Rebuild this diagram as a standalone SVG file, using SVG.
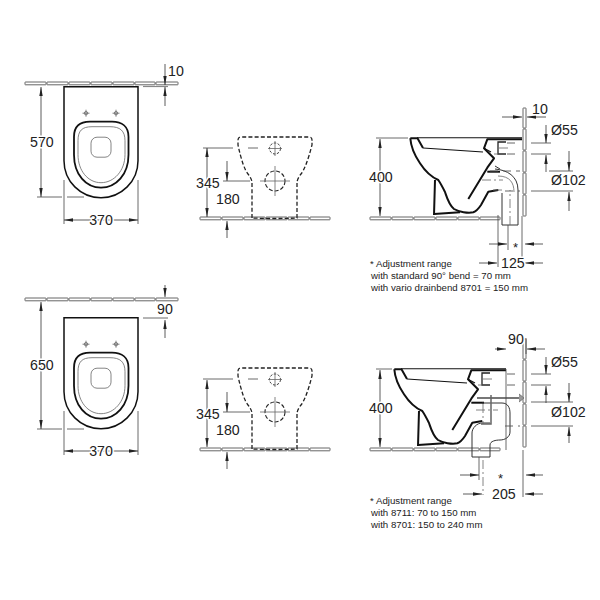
<svg xmlns="http://www.w3.org/2000/svg" width="600" height="600" viewBox="0 0 600 600">
<style>
text{font-family:"Liberation Sans",Arial,sans-serif;fill:#222}
.d{font-size:14.2px;paint-order:stroke;stroke:#fff;stroke-width:3px;stroke-linejoin:round}
.s{font-size:13px}
.n{font-size:9.7px}
.l{fill:none;stroke:#444;stroke-width:.8}
.h{fill:none;stroke:#555;stroke-width:.9;stroke-dasharray:8 5}
.g{fill:none;stroke:#666;stroke-width:.8}
.p{fill:none;stroke:#333;stroke-width:1}
.a{fill:none;stroke:#333;stroke-width:.8;marker-end:url(#ah)}
.b{fill:none;stroke:#333;stroke-width:.8;marker-start:url(#ah);marker-end:url(#ah)}
.t{fill:none;stroke:#111;stroke-width:2;stroke-linejoin:round}
.m{fill:none;stroke:#111;stroke-width:1.1}
.o{fill:none;stroke:#111;stroke-width:1.5}
.dash{fill:none;stroke:#222;stroke-width:1.3;stroke-dasharray:4 2.2}
.c{fill:none;stroke:#666;stroke-width:.8;stroke-dasharray:9 3 2 3}
.wall{fill:#fff;stroke:#555;stroke-width:.9}
</style>
<defs>
<marker id="ah" markerUnits="userSpaceOnUse" markerWidth="10" markerHeight="6" refX="9" refY="2.500" orient="auto-start-reverse"><path d="M0 0.800L9 2.500L0 4.200Z" fill="#222"/></marker>
<g id="hfloor"><rect class="wall" x="0" y="0" width="21" height="2.800" rx=".4"/><rect class="wall" x="22" y="0" width="21" height="2.800" rx=".4"/><rect class="wall" x="44" y="0" width="21" height="2.800" rx=".4"/><rect class="wall" x="66" y="0" width="21" height="2.800" rx=".4"/><rect class="wall" x="88" y="0" width="21" height="2.800" rx=".4"/><rect class="wall" x="110" y="0" width="20" height="2.800" rx=".4"/></g>
<g id="vwall"><rect class="wall" x="523" y="108" width="3" height="20" rx=".4"/><rect class="wall" x="523" y="129" width="3" height="21" rx=".4"/><rect class="wall" x="523" y="151" width="3" height="21" rx=".4"/><rect class="wall" x="523" y="173" width="3" height="21" rx=".4"/><rect class="wall" x="523" y="195" width="3" height="21" rx=".4"/></g>
<g id="top">
<path d="M64 0V74A37 37 0 0 0 138 74V0Z" class="o"/>
<path d="M74 52V50C74 40 80 35 90 35H112C122 35 128.500 40 128.500 50V68C128.500 88 116 101 101 101C86 101 74 88 74 68Z" class="o" style="stroke-width:1.800"/>
<path d="M78 54C78 44 82 40 92 40H110C120 40 125 44 125 54V68C125 84 114 96 101 96C88 96 78 84 78 68Z" class="g"/>
<rect x="91" y="50.500" width="20" height="20" rx="6" class="g"/>
<path d="M82.500 26.500H89.500M86 23V30M112.500 26.500H119.500M116 23V30" class="g"/>
<circle cx="86" cy="26.500" r="1.700" class="g"/><circle cx="116" cy="26.500" r="1.700" class="g"/>
</g>
<g id="front">
<path d="M252 218V183Q252 179 248 174Q243 168 238 145V140Q238 137 241 137H309Q312 137 312 140V145Q306 168 301 174Q297 179 297 183V218Q275 219 252 218Z" class="dash"/>
<circle cx="275" cy="148.500" r="5.500" class="dash" style="stroke-width:.9;stroke-dasharray:2.500 1.500"/>
<circle cx="275" cy="181" r="10" class="dash" style="stroke-width:1.100;stroke-dasharray:4 2"/>
<path d="M268 148.500H282M275 141V156M260 181H290M275 166V196" class="g"/>
</g>
<g id="bowl">
<path d="M410.300 138.300H417.500L423 148" class="t"/>
<path d="M410.300 138.300C411 148 415 156 420 163.300C425 171 431 177 438.300 180C441 184 443 188 445 192C447 198 449 205 454 209C459 212 468 213.500 473.300 212.300C477 211 479 208 481 205L488.300 191.700L498.300 190" class="t"/>
<path d="M435 180L434 215M434 214L460 212.300" class="t"/>
<path d="M468.300 199L487.300 167.700L494 158.300L484 148.300L487.300 139.300H522" class="t"/>
<path d="M487.300 171.700H500" class="t"/>
<path d="M417 137.800H522" class="m"/>
<path d="M423 148L483 152" class="m"/>
<path d="M484 148.300L491 152" class="m"/>
<path d="M506 142H498V154H506" style="fill:none;stroke:#222;stroke-width:1.300"/>
<path d="M494 154H506" class="g"/>
<path d="M499 148H510" class="c"/>
</g>
</defs>

<g id="view-top-plan-1">
<use href="#hfloor" x="25" y="82"/><rect class="wall" x="156" y="82" width="22" height="2.800" rx=".4"/>
<use href="#top" y="86.700"/>
<g id="dims-1">
<path d="M143 86.500H168" style="stroke:#888;stroke-width:1.200;fill:none"/>
<path d="M37 197H62M67 197H84M64 180V224M138 180V224" class="l"/>
<path d="M41 87V197" class="b"/>
<path d="M64 220H138" class="b"/>
<path d="M165 64V85" class="a"/>
<path d="M165 106V87" class="a"/>
<text class="d" x="30" y="147">570</text>
<text class="d" x="101" y="225" text-anchor="middle">370</text>
<text class="d" x="168" y="76">10</text>
</g>
</g>

<g id="view-front-1">
<use href="#hfloor" x="200" y="217"/>
<use href="#front"/>
<g id="dims-2">
<path d="M203 148H233M248 148H258M223 181H250" class="l"/>
<path d="M207 148V217" class="b"/>
<path d="M227 161V181" class="a"/>
<path d="M227 238V221" class="a"/>
<text class="d" x="196" y="188">345</text>
<text class="d" x="216" y="204">180</text>
</g>
</g>

<g id="view-side-1">
<use href="#hfloor" x="370" y="217"/>
<use href="#vwall"/>
<use href="#bowl"/>
<g id="elbow-1">
<path d="M495 169C507 170 518 176 518 190V225H502V193M495 166L500 169" class="p"/>
<path d="M498 176C510 176 514 183 514 192" class="g"/>
<path d="M482 180H503M493 190H503M510 225V190" class="c"/>
</g>
<g id="dims-3">
<path d="M376 138H408M498 215V267M522 216V267M508 225V250" class="l"/>
<path d="M531 143H551M531 154H551M549 171H573M531 191H573" class="l"/>
<path d="M507 143H520M507 154H520M490 171H520M505 191H520" class="h"/>
<path d="M380 139V216" class="b"/>
<path d="M502 117H522" class="a"/><path d="M546 117H527" class="a"/>
<path d="M546 125V143" class="a"/><path d="M546 172V155" class="a"/>
<path d="M569 151V171" class="a"/><path d="M569 211V192" class="a"/>
<path d="M489 244H507" class="a"/><path d="M543 244H525" class="a"/>
<path d="M479 263H497" class="a"/><path d="M543 263H525" class="a"/>
<text class="d" x="369" y="182">400</text>
<text class="d" x="532" y="114">10</text>
<text class="d" x="551" y="135">Ø55</text>
<text class="d" x="551" y="185">Ø102</text>
<text class="s" x="513" y="252">*</text>
<text class="d" x="501" y="268">125</text>
</g>
<g id="note-1">
<text class="n" x="370" y="267">* Adjustment range</text>
<text class="n" x="371" y="279">with standard 90° bend = 70 mm</text>
<text class="n" x="371" y="291">with vario drainbend 8701 = 150 mm</text>
</g>
</g>

<g id="view-top-plan-2">
<use href="#hfloor" x="25" y="298"/><rect class="wall" x="156" y="298" width="22" height="2.800" rx=".4"/>
<use href="#top" y="317.700"/>
<g id="dims-4">
<path d="M143 318H168" class="l"/>
<path d="M37 429H62M67 429H84M64 411V455M138 411V455" class="l"/>
<path d="M41 302V429" class="b"/>
<path d="M64 451H138" class="b"/>
<path d="M165 285V297" class="a"/>
<path d="M165 338V320" class="a"/>
<text class="d" x="30" y="370">650</text>
<text class="d" x="101" y="456" text-anchor="middle">370</text>
<text class="d" x="157" y="314">90</text>
</g>
</g>

<g id="view-front-2">
<use href="#hfloor" x="200" y="448"/>
<use href="#front" y="231"/>
<g id="dims-5">
<path d="M203 379H233M248 379H258M223 412H250" class="l"/>
<path d="M207 380V447" class="b"/>
<path d="M227 392V412" class="a"/>
<path d="M227 469V452" class="a"/>
<text class="d" x="196" y="419">345</text>
<text class="d" x="216" y="435">180</text>
</g>
</g>

<g id="view-side-2">
<use href="#hfloor" x="370" y="448"/>
<use href="#vwall" y="231"/>
<use href="#bowl" x="-16" y="231"/>
<g id="elbow-2">
<path d="M482 403H502C508 403 510 408 510 413V432C510 437 505 440 500 440C496 440 490 441 490 445V457H472V433C472 428 477 423 482 423H490" class="p"/>
<path d="M477 398H522" style="stroke:#777;stroke-width:2;fill:none"/>
<path d="M519 394L524 398L519 402" style="stroke:#777;stroke-width:1;fill:#999"/>
<path d="M491 395V424L481 424" style="stroke:#666;stroke-width:1.500;fill:none"/>
<path d="M476 410H498M483 404V424M483 460V495" class="c"/>
<path d="M506 369V450" class="l"/>
</g>
<g id="dims-6">
<path d="M376 369H392M479 457V480M523 450V497M526 338V354" class="l"/>
<path d="M531 374H551M531 385H551M531 402H573M531 426H573" class="l"/>
<path d="M507 374H520M507 385H520M505 426H520" class="h"/>
<path d="M380 370V447" class="b"/>
<path d="M495 349H506" class="a"/><path d="M545 349H527" class="a"/>
<path d="M546 357V374" class="a"/><path d="M546 403V386" class="a"/>
<path d="M569 383V402" class="a"/><path d="M569 443V427" class="a"/>
<path d="M460 475H479" class="a"/><path d="M543 475H526" class="a"/>
<path d="M463 494H482" class="a"/><path d="M543 494H525" class="a"/>
<text class="d" x="369" y="413">400</text>
<text class="d" x="508" y="344">90</text>
<text class="d" x="551" y="367">Ø55</text>
<text class="d" x="551" y="417">Ø102</text>
<text class="s" x="498" y="483">*</text>
<text class="d" x="492" y="499">205</text>
</g>
<g id="note-2">
<text class="n" x="370" y="504">* Adjustment range</text>
<text class="n" x="371" y="516">with 8711: 70 to 150 mm</text>
<text class="n" x="371" y="528">with 8701: 150 to 240 mm</text>
</g>
</g>
</svg>
